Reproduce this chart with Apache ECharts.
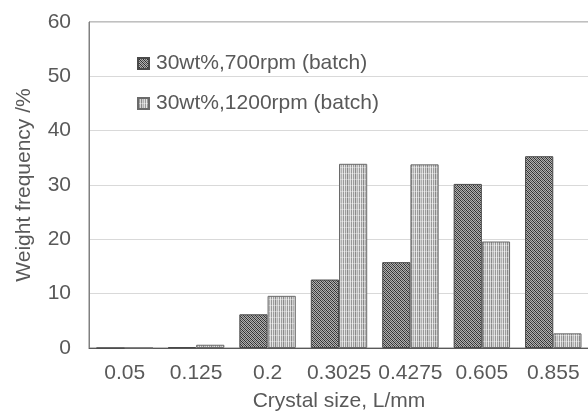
<!DOCTYPE html>
<html>
<head>
<meta charset="utf-8">
<script src="https://cdn.jsdelivr.net/npm/echarts@6/dist/echarts.min.js"></script>
<style>
html,body{margin:0;padding:0;background:#fff;}
#chart{width:588px;height:411px;}
</style>
</head>
<body>
<div id="chart"></div>
<script>
var categories = ['0.05', '0.125', '0.2', '0.3025', '0.4275', '0.605', '0.855'];
var series700 = [0, 0.15, 6.2, 12.6, 15.8, 30.2, 35.3];
var series1200 = [0, 0.6, 9.6, 33.9, 33.8, 19.6, 2.7];
var seriesNames = ['30wt%,700rpm (batch)', '30wt%,1200rpm (batch)'];

function makeHatch() {
  var c = document.createElement('canvas');
  c.width = 4; c.height = 4;
  var ctx = c.getContext('2d');
  for (var x = 0; x < 4; x++) {
    for (var y = 0; y < 4; y++) {
      var col;
      if ((x + y) % 2 === 1) col = '#b0b0b0';
      else if ((x - y + 8) % 4 === 0) col = '#2e2e2e';
      else col = '#5a5a5a';
      ctx.fillStyle = col;
      ctx.fillRect(x, y, 1, 1);
    }
  }
  return c;
}
function makeStripes() {
  var c = document.createElement('canvas');
  c.width = 8; c.height = 6;
  var ctx = c.getContext('2d');
  var cols = ['#e6e6e6', '#9c9c9c', '#d8d8d8', '#8a8a8a', '#cfcfcf', '#b0b0b0', '#dedede', '#989898'];
  for (var i = 0; i < 8; i++) {
    ctx.fillStyle = cols[i];
    ctx.fillRect(i, 0, 1, 6);
  }
  ctx.fillStyle = 'rgba(255,255,255,0.35)';
  ctx.fillRect(0, 5, 8, 1);
  return c;
}

var chart = echarts.init(document.getElementById('chart'), null, {renderer: 'canvas'});
var txt = '#595959';
var font = 'Liberation Sans, Arial, sans-serif';
chart.setOption({
  animation: false,
  backgroundColor: '#fff',
  textStyle: {fontFamily: font},
  grid: {left: 89, right: -1, top: 22, bottom: 63, show: true, borderColor: '#808080', borderWidth: 1,
         containLabel: false, outerBoundsMode: 'none'},
  legend: {
    orient: 'vertical', left: 132, top: 48, itemWidth: 11, itemHeight: 11, itemGap: 19,
    icon: 'rect',
    textStyle: {fontSize: 21, color: txt, fontFamily: font, padding: [0, 0, 0, 2]},
    data: seriesNames
  },
  xAxis: {
    type: 'category', data: categories,
    name: 'Crystal size, L/mm', nameLocation: 'middle', nameGap: 43,
    nameTextStyle: {fontSize: 21, color: txt},
    axisLine: {lineStyle: {color: '#595959'}},
    axisTick: {show: false},
    axisLabel: {fontSize: 21, color: txt, margin: 15, interval: 0}
  },
  yAxis: {
    type: 'value', min: 0, max: 60, interval: 10,
    name: 'Weight frequency /%', nameLocation: 'middle', nameGap: 54,
    nameTextStyle: {fontSize: 21, color: txt},
    axisLine: {show: true, lineStyle: {color: '#808080'}},
    axisTick: {show: false},
    axisLabel: {fontSize: 21, color: txt, margin: 18},
    splitLine: {lineStyle: {color: '#d9d9d9'}}
  },
  series: [
    {name: seriesNames[0], type: 'bar', data: series700, barGap: '0%', barCategoryGap: '21%',
     itemStyle: {color: {image: makeHatch(), repeat: 'repeat'}, borderColor: '#4a4a4a', borderWidth: 1}},
    {name: seriesNames[1], type: 'bar', data: series1200, barGap: '0%', barCategoryGap: '21%',
     itemStyle: {color: {image: makeStripes(), repeat: 'repeat'}, borderColor: '#6a6a6a', borderWidth: 1}}
  ]
});
</script>
</body>
</html>
